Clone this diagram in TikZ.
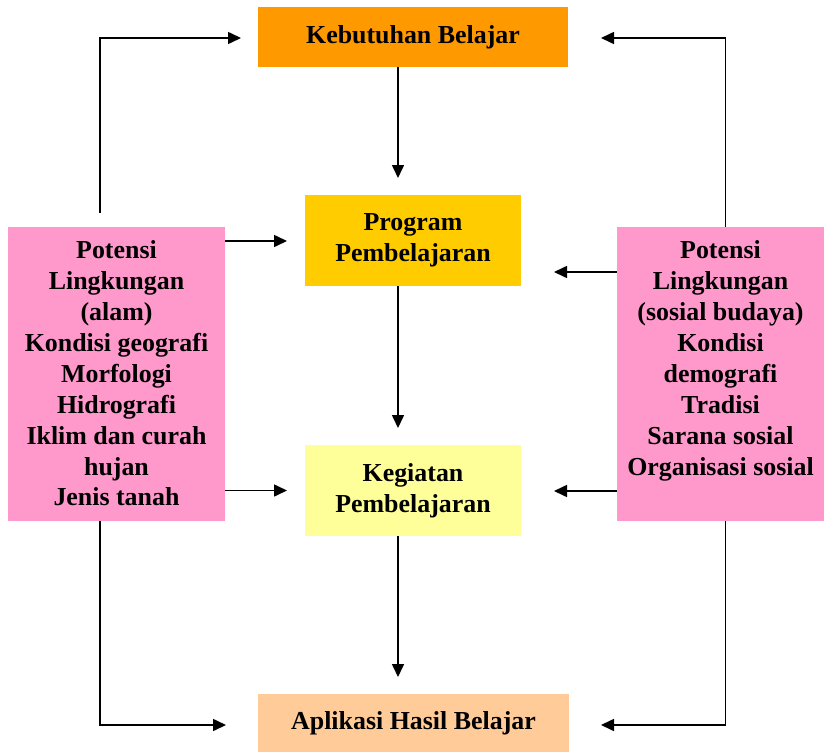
\documentclass[tikz,border=0pt]{standalone}
\usepackage{fontspec}
\setmainfont{Liberation Serif}
\usetikzlibrary{arrows.meta}
\definecolor{cK}{HTML}{FF9900}
\definecolor{cP}{HTML}{FFCC00}
\definecolor{cG}{HTML}{FFFF99}
\definecolor{cA}{HTML}{FFCC99}
\definecolor{cL}{HTML}{FF99CC}
\tikzset{
  box/.style={rectangle, draw=none, inner sep=0pt, align=center,
    font=\fontsize{26}{31}\selectfont\bfseries},
  conn/.style={line width=1.6bp, -{Triangle[length=13bp,width=12bp]}},
}
\begin{document}
\begin{tikzpicture}[x=1bp,y=-1bp]
\useasboundingbox (0,0) rectangle (824,752);
\node[box, fill=cK, minimum width=310bp, minimum height=60bp] (K) at (413,37) {Kebutuhan Belajar};
\node[box, fill=cP, minimum width=216bp, minimum height=91bp] (P) at (413,240.5) {Program\\Pembelajaran};
\node[box, fill=cG, minimum width=216bp, minimum height=91bp] (G) at (413,490.5) {Kegiatan\\Pembelajaran};
\node[box, fill=cA, minimum width=311bp, minimum height=58bp] (A) at (413.5,723) {Aplikasi Hasil Belajar};
\node[box, fill=cL, minimum width=217bp, minimum height=294bp] (L) at (116.5,373.5) {Potensi\\Lingkungan\\(alam)\\Kondisi geografi\\Morfologi\\Hidrografi\\Iklim dan curah\\hujan\\Jenis tanah};
\node[box, fill=cL, minimum width=207bp, minimum height=294bp] (R) at (720.5,373.5) {Potensi\\Lingkungan\\(sosial budaya)\\Kondisi\\demografi\\Tradisi\\Sarana sosial\\Organisasi sosial\\\mbox{}};
% coordinates for connector ends
\coordinate (kin) at (398,178);
\coordinate (pout) at (398,286);
\coordinate (gin) at (398,428);
\coordinate (gout) at (398,536);
\coordinate (ain) at (398,677);
\coordinate (kout) at (398,67);
\coordinate (ltop) at (100,213);
\coordinate (lbot) at (100,520.5);
\coordinate (rtop) at (725.5,226.5);
\coordinate (rbot) at (725.5,520.5);
\coordinate (kl) at (241,38);
\coordinate (kr) at (601,38);
\coordinate (al) at (226,725);
\coordinate (ar) at (601,725);
% vertical chain
\draw[conn] (kout) -- (kin);
\draw[conn] (pout) -- (gin);
\draw[conn] (gout) -- (ain);
% left side
\draw[conn] (ltop) |- (kl);
\draw[conn] (lbot) |- (al);
\draw[conn] (L.east |- 0,241) -- (287,241);
\draw[conn] (L.east |- 0,490.5) -- (287,490.5);
% right side
\draw[conn] (rtop) |- (kr);
\draw[conn] (rbot) |- (ar);
\draw[conn] (R.west |- 0,272) -- (554,272);
\draw[conn] (R.west |- 0,491) -- (554,491);
\end{tikzpicture}
\end{document}
